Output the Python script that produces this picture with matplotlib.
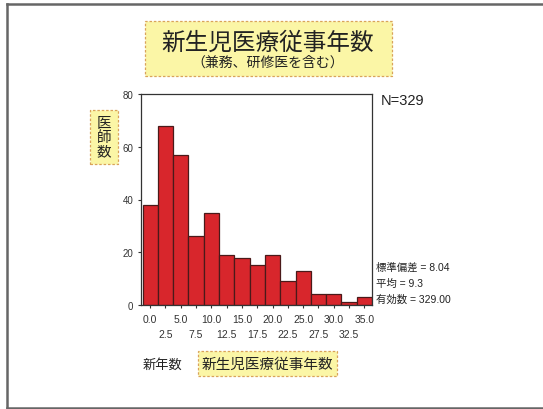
import matplotlib
matplotlib.use("Agg")
import matplotlib.pyplot as plt
from matplotlib.patches import FancyBboxPatch
from matplotlib.lines import Line2D

plt.rcParams['font.family'] = ['Liberation Sans', 'Noto Sans CJK JP', 'DejaVu Sans']

# Histogram of neonatal-care experience (years), bin width 2.5
bin_centers = [0.0, 2.5, 5.0, 7.5, 10.0, 12.5, 15.0, 17.5, 20.0, 22.5, 25.0, 27.5, 30.0, 32.5, 35.0]
counts = [38, 68, 57, 26, 35, 19, 18, 15, 19, 9, 13, 4, 4, 1, 3]
major_ticks = [0.0, 5.0, 10.0, 15.0, 20.0, 25.0, 30.0, 35.0]
minor_ticks = [2.5, 7.5, 12.5, 17.5, 22.5, 27.5, 32.5]
y_ticks = [0, 20, 40, 60, 80]

title = "新生児医療従事年数"
subtitle = "（兼務、研修医を含む）"
y_label = "医\n師\n数"
x_label_left = "新年数"
x_label_box = "新生児医療従事年数"
n_text = "N=329"
stats_lines = ["標準偏差 = 8.04", "平均 = 9.3", "有効数 = 329.00"]

W, H = 543, 410
fig = plt.figure(figsize=(W / 100, H / 100), dpi=100)
fig.patch.set_facecolor('white')

def fx(px):
    return px / W

def fy(py):
    return 1 - py / H

# page frame (left, top, bottom edges)
for xs, ys in [((7, 7), (5, 409)), ((7, 543), (5, 5)), ((7, 543), (409, 409))]:
    fig.add_artist(Line2D([fx(x) for x in xs], [fy(y) for y in ys], color='#666666', lw=1.8))

ax = fig.add_axes([fx(141), fy(306), fx(372) - fx(141), fy(95) - fy(306)])
ax.bar(bin_centers, counts, width=2.5, color='#d8262c', edgecolor='#4a1a1a', linewidth=0.9, zorder=2)
ax.set_xlim(-1.5, 36.25)
ax.set_ylim(0, 80)

for side in ['left', 'top', 'right', 'bottom']:
    ax.spines[side].set_color('#333333')
    ax.spines[side].set_linewidth(0.9)

ax.set_yticks(y_ticks)
ax.set_yticklabels([str(v) for v in y_ticks], fontsize=7, color='#333333')
ax.tick_params(axis='y', length=2.5, width=0.8, pad=3, color='#333333')

# two staggered rows of x tick labels
ax.set_xticks(major_ticks)
ax.set_xticklabels([f"{v:.1f}" for v in major_ticks], fontsize=7.5, color='#333333')
ax.set_xticks(minor_ticks, minor=True)
ax.set_xticklabels([f"{v:.1f}" for v in minor_ticks], minor=True, fontsize=7.5, color='#333333')
ax.tick_params(axis='x', which='major', length=2.5, width=0.8, pad=4, color='#333333')
ax.tick_params(axis='x', which='minor', length=2.5, width=0.8, pad=15, color='#333333')

# title box
fig.add_artist(FancyBboxPatch((fx(145), fy(77)), fx(392) - fx(145), fy(22) - fy(77),
                              boxstyle='square,pad=0', facecolor='#fbf6a6', edgecolor='#d9a35a',
                              linestyle=(0, (2, 1.5)), linewidth=0.9))
fig.text(fx(268), fy(44), title, fontsize=17, ha='center', va='center', color='#222222')
fig.text(fx(268), fy(63), subtitle, fontsize=10, ha='center', va='center', color='#222222')

# y-axis label box
fig.add_artist(FancyBboxPatch((fx(90), fy(165)), fx(118) - fx(90), fy(111) - fy(165),
                              boxstyle='square,pad=0', facecolor='#fbf6a6', edgecolor='#d9a35a',
                              linestyle=(0, (2, 1.5)), linewidth=0.9))
fig.text(fx(104), fy(138), y_label, fontsize=10.5, ha='center', va='center',
         color='#222222', linespacing=1.0)

fig.text(fx(381), fy(101), n_text, fontsize=10.5, ha='left', va='center', color='#222222')

for i, line in enumerate(stats_lines):
    fig.text(fx(376), fy(268 + 16 * i), line, fontsize=7.5, ha='left', va='center', color='#222222')

# x-axis label
fig.text(fx(143), fy(365), x_label_left, fontsize=9.5, ha='left', va='center', color='#222222')
fig.add_artist(FancyBboxPatch((fx(198), fy(377)), fx(337) - fx(198), fy(352) - fy(377),
                              boxstyle='square,pad=0', facecolor='#fbf6a6', edgecolor='#d9a35a',
                              linestyle=(0, (2, 1.5)), linewidth=0.9))
fig.text(fx(267), fy(365), x_label_box, fontsize=10.5, ha='center', va='center', color='#222222')

fig.savefig("out.png", dpi=100)
